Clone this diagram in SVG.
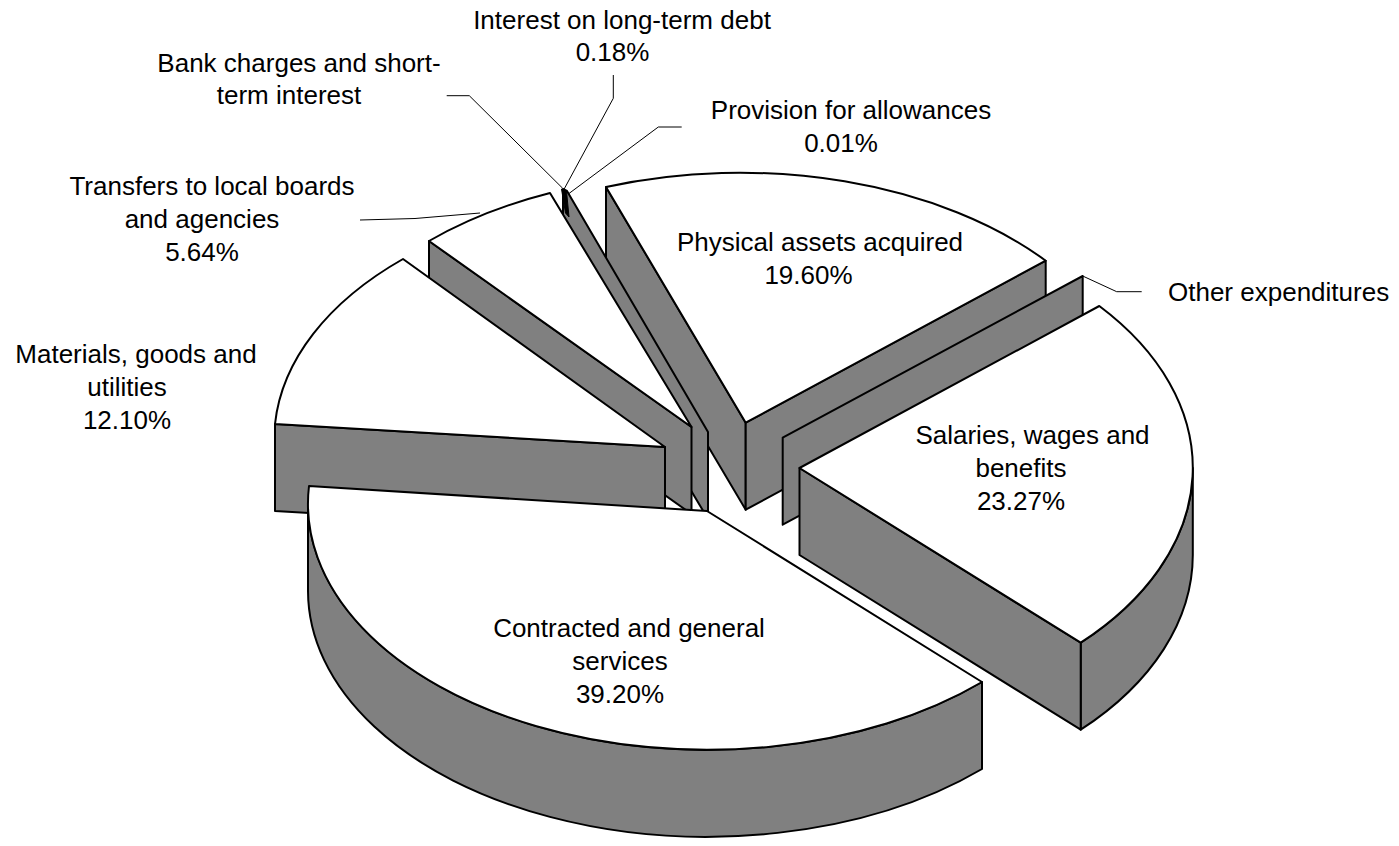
<svg xmlns="http://www.w3.org/2000/svg" width="1399" height="846" viewBox="0 0 1399 846">
<style>
.f{fill:#fff;stroke:#000;stroke-width:2;stroke-linejoin:round}
.g{fill:#808080;stroke:#000;stroke-width:2;stroke-linejoin:round}
.k{fill:#000;stroke:#000;stroke-width:1}
.ld{fill:none;stroke:#000;stroke-width:1}
text{font-family:"Liberation Sans",Arial,sans-serif;font-size:26px;fill:#000;text-anchor:middle}
</style>
<rect width="1399" height="846" fill="#fff"/>
<g id="slice-physical">
<path class="g" d="M606,187 L745.7,422.7 L745.7,509.7 L606,274 Z"/>
<path class="g" d="M745.7,422.7 L1045.7,260.7 L1045.7,347.7 L745.7,509.7 Z"/>
<path class="f" d="M745.7,422.7 L606,187 A399,246 0 0 1 1045.7,260.7 Z"/>
</g>
<g id="slice-other">
<path class="g" d="M782.7,437.7 L1082.7,276 L1082.7,363 L782.7,524.7 Z"/>
</g>
<g id="slice-small">
<path class="g" d="M563,189 L567,191 L708,432 L708,519 L563,276 Z"/>
<path class="k" d="M561.5,189 L566.5,191 L569,217 L565.5,213 Z"/>
</g>
<g id="slice-transfers">
<path class="g" d="M429,241 L691.5,427 L691.5,514 L429,328 Z"/>
<path class="f" d="M691.5,427 L429,241 A399,246 0 0 1 550,193 Z"/>
</g>
<g id="slice-materials">
<path class="g" d="M275,424 L665,447 L665,534 L275,511 Z"/>
<path class="f" d="M665,447 L275,424 A399,246 0 0 1 403,259 Z"/>
</g>
<g id="slice-salaries">
<path class="g" d="M1192.8,468 A393,250 0 0 1 1080.7,642.7 L1080.7,729.7 A393,250 0 0 0 1192.8,555 Z"/>
<path class="g" d="M799.5,468 L1080.7,642.7 L1080.7,729.7 L799.5,555 Z"/>
<path class="f" d="M799.5,468 L1099.3,306 A393,250 0 0 1 1080.7,642.7 Z"/>
</g>
<g id="slice-contracted">
<path class="g" d="M982,682 L982,769 A399,246 0 0 1 308,591 L308,504 A399,246 0 0 0 982,682 Z"/>
<path class="f" d="M707,511 L982,682 A399,246 0 0 1 309,486 Z"/>
</g>
<g id="connectors">
<polyline class="ld" points="446.7,95.7 469.3,95.7 562.7,188.3"/>
<polyline class="ld" points="613.3,75 613.3,98.3 564,189.3"/>
<polyline class="ld" points="681.7,127 658.3,127 568.3,194"/>
<polyline class="ld" points="360,220 415,218.5 480,213"/>
<polyline class="ld" points="1082.7,276 1116.7,291.7 1141.7,291.7"/>
</g>
<g id="labels">
<text x="622" y="28.5">Interest on long-term debt</text>
<text x="612.5" y="61">0.18%</text>
<text x="299" y="71.5">Bank charges and short-</text>
<text x="289" y="104">term interest</text>
<text x="851" y="119">Provision for allowances</text>
<text x="841" y="152">0.01%</text>
<text x="212" y="194.5">Transfers to local boards</text>
<text x="202" y="227.5">and agencies</text>
<text x="202" y="260.5">5.64%</text>
<text x="820" y="251">Physical assets acquired</text>
<text x="808.5" y="283.5">19.60%</text>
<text x="1168" y="301" style="text-anchor:start">Other expenditures</text>
<text x="1032.5" y="444.3">Salaries, wages and</text>
<text x="1021" y="476.8">benefits</text>
<text x="1021" y="510">23.27%</text>
<text x="136" y="363">Materials, goods and</text>
<text x="127" y="396">utilities</text>
<text x="127" y="429">12.10%</text>
<text x="629" y="636.7">Contracted and general</text>
<text x="620" y="670">services</text>
<text x="620" y="702.7">39.20%</text>
</g>
</svg>
